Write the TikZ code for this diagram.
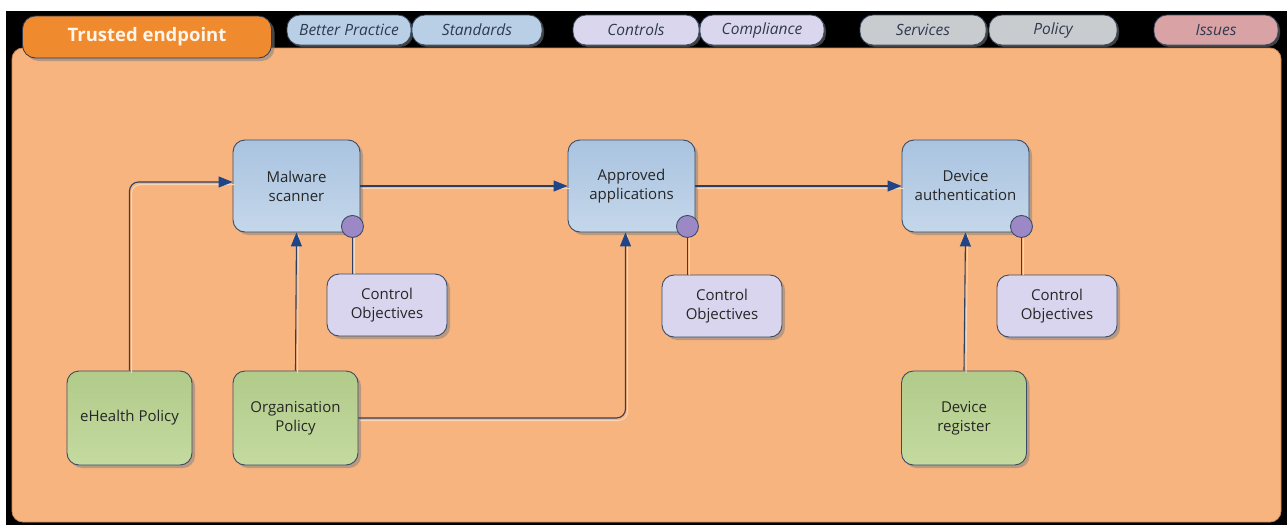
\documentclass[tikz,border=0pt]{standalone}
\usepackage{fontspec}
\setmainfont{Open Sans}
\usetikzlibrary{arrows.meta,shadows,calc}
\definecolor{panelfill}{HTML}{F8B47E}
\definecolor{paneledge}{HTML}{C88858}
\definecolor{taborange}{HTML}{F08A2E}
\definecolor{tabblue}{HTML}{B9CFE6}
\definecolor{tablav}{HTML}{DAD6EE}
\definecolor{tabgrey}{HTML}{C9CCCE}
\definecolor{tabpink}{HTML}{D9A2A4}
\definecolor{tabtext}{HTML}{2F3A50}
\definecolor{edgedark}{HTML}{3B4B63}
\definecolor{bluetop}{HTML}{A9C3E0}
\definecolor{bluebot}{HTML}{C5D7EA}
\definecolor{greentop}{HTML}{B1CB8A}
\definecolor{greenbot}{HTML}{C4DAA0}
\definecolor{cofill}{HTML}{D9D5EE}
\definecolor{dotfill}{HTML}{9D88C6}
\definecolor{linedark}{HTML}{2F3F5F}
\definecolor{arrowblue}{HTML}{1F4588}
\definecolor{linelight}{HTML}{F6D6B8}
\definecolor{nodetext}{HTML}{262626}
\tikzset{
  x=1pt, y=-1pt,
  tabpill/.style={draw=edgedark, line width=0.8pt, rounded corners=13pt,
    minimum width=#1, minimum height=30pt, inner sep=0pt,
    font=\fontsize{15.5}{17}\selectfont\itshape, text=tabtext,
    drop shadow={shadow xshift=2pt, shadow yshift=-2pt, opacity=0.5}},
  procbox/.style={draw=edgedark, line width=0.9pt, rounded corners=12pt,
    top color=bluetop, bottom color=bluebot,
    minimum width=127pt, minimum height=92pt, align=center,
    font=\fontsize{15}{19}\selectfont, text=nodetext,
    drop shadow={shadow xshift=3pt, shadow yshift=-3pt, opacity=0.5}},
  policybox/.style={procbox, top color=greentop, bottom color=greenbot,
    minimum width=125pt, minimum height=94pt},
  objbox/.style={procbox, top color=cofill, bottom color=cofill,
    minimum width=120pt, minimum height=62pt},
  dot/.style={circle, draw=edgedark, line width=0.9pt, fill=dotfill,
    minimum size=22pt, inner sep=0pt},
  flow/.style={draw=linedark, line width=1.1pt, rounded corners=9pt,
    -{Triangle[length=14pt, width=11pt, fill=arrowblue, color=arrowblue]},
    preaction={draw=linelight, line width=1pt, -,
      transform canvas={shift={(2pt,-2.5pt)}}}},
  tie/.style={draw=linedark, line width=1.1pt,
    preaction={draw=linelight, line width=1pt,
      transform canvas={shift={(2.5pt,0pt)}}}}
}
\begin{document}
\begin{tikzpicture}
\useasboundingbox (0,0) rectangle (1287,525);
% frame
\fill[white] (0,0) rectangle (1287,525);
\fill[black] (6,11) rectangle (1287,525);
% main panel
\filldraw[fill=panelfill, draw=paneledge, line width=0.8pt, rounded corners=11pt]
  (12,48) rectangle (1281,522);
% title tab
\node[draw=tabtext, line width=0.8pt, fill=taborange, rounded corners=13pt,
  minimum width=249pt, minimum height=42pt, inner sep=0pt,
  text=white!92!orange, font=\fontsize{18.5}{20}\selectfont\bfseries,
  drop shadow={shadow xshift=3pt, shadow yshift=-3pt, opacity=0.55}]
  (title) at (147,37) {Trusted endpoint};
% category tabs
\node[tabpill=124pt, fill=tabblue] (tbp) at (349,30) {Better Practice};
\node[tabpill=130pt, fill=tabblue] (tst) at (477,30) {Standards};
\node[tabpill=126pt, fill=tablav]  (tct) at (636,30) {Controls};
\node[tabpill=124pt, fill=tablav]  (tcp) at (762,30) {Compliance};
\node[tabpill=126pt, fill=tabgrey] (tsv) at (923,30) {Services};
\node[tabpill=128pt, fill=tabgrey] (tpo) at (1053,30) {Policy};
\node[tabpill=124pt, fill=tabpink] (tis) at (1216,30) {Issues};
% process boxes
\node[procbox] (ms) at (296.5,186) {Malware\\scanner};
\node[procbox] (ap) at (631.5,186) {Approved\\applications};
\node[procbox] (da) at (965.5,186) {Device\\authentication};
% control objective boxes
\node[objbox] (co1) at (387,305) {Control\\Objectives};
\node[objbox] (co2) at (722,306) {Control\\Objectives};
\node[objbox] (co3) at (1057,306) {Control\\Objectives};
% policy / source boxes
\node[policybox] (eh) at (129.5,418) {eHealth Policy};
\node[policybox] (og) at (295.5,418) {Organisation\\Policy};
\node[policybox] (dr) at (964,418) {Device\\register};
% objective ties
\path[tie] ($(ms.south east)+(-8,-6)$) coordinate (d1) -- (d1 |- co1.north);
\path[tie] ($(ap.south east)+(-8,-6)$) coordinate (d2) -- (d2 |- co2.north);
\path[tie] ($(da.south east)+(-8,-6)$) coordinate (d3) -- (d3 |- co3.north);
\node[dot] (c1) at (d1) {};
\node[dot] (c2) at (d2) {};
\node[dot] (c3) at (d3) {};
% flows
\path[flow] (eh.north) |- ([yshift=4pt]ms.west);
\path[flow] (og.north) -- (ms.south);
\path[flow] (og.east) -| ([xshift=-6pt]ap.south);
\path[flow] (ms.east) -- (ap.west);
\path[flow] (ap.east) -- (da.west);
\path[flow] (dr.north) -- (da.south);
\end{tikzpicture}
\end{document}
